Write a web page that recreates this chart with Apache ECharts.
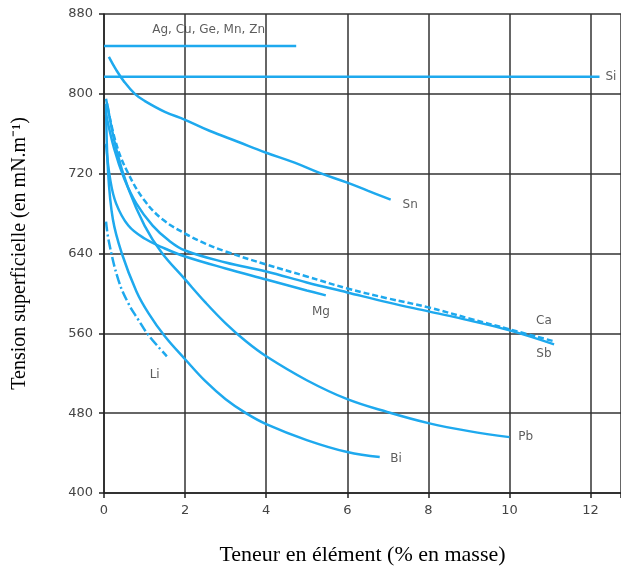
<!DOCTYPE html>
<html>
<head>
<meta charset="utf-8">
<script src="https://cdn.jsdelivr.net/npm/echarts@6/dist/echarts.min.js"></script>
<style>html,body{margin:0;padding:0;background:#fff}#c{width:621px;height:569px}</style>
</head>
<body>
<div id="c"></div>
<script>
// Data (x = % en masse, y = mN/m)
const agCuGeMnZn = [[0, 848], [4.74, 848]];
const si = [[0, 817], [12.22, 817]];
const sn = [[0.12, 837], [0.3, 824], [0.5, 812], [0.76, 800], [1, 793], [1.5, 782], [2, 774], [2.6, 763], [3.3, 752], [4, 741], [4.7, 731], [5.3, 721], [6, 711], [6.5, 703], [7.07, 694]];
const ca = [[0.05, 795], [0.3, 750], [0.6, 720], [1, 693], [1.45, 674], [2, 660], [2.5, 650], [3, 642], [4, 629], [5, 617], [6, 605], [7, 595], [8, 586], [9, 575], [10, 564], [11.1, 552]];
const sb = [[0.05, 780], [0.25, 745], [0.5, 715], [0.8, 690], [1.2, 668], [1.6, 653], [2, 643], [3, 631], [4, 622], [5, 611], [6, 601], [7, 591], [8, 582], [9, 573], [10, 563], [11.1, 549]];
const mg = [[0.05, 750], [0.15, 715], [0.3, 690], [0.6, 668], [1, 655], [1.5, 645], [2, 637], [3, 625], [4, 614], [5, 603], [5.47, 598]];
const pb = [[0.08, 790], [0.3, 745], [0.6, 705], [1, 668], [1.42, 641], [2, 614], [2.5, 591], [3, 570], [3.5, 552], [4, 537], [5, 513], [6, 494], [7, 481], [8, 470], [9, 462], [10, 456]];
const bi = [[0.05, 790], [0.1, 722], [0.22, 674], [0.44, 640], [0.8, 602], [1.1, 580], [1.5, 557], [2, 534], [2.5, 512], [3, 494], [3.5, 480], [4, 469], [5, 453], [6, 441], [6.8, 436]];
const li = [[0.05, 672], [0.12, 652], [0.35, 614], [0.6, 590], [0.84, 574], [1.1, 558], [1.55, 537]];
const curveLabels = [
  ['Ag, Cu, Ge, Mn, Zn', 2.58, 864],
  ['Si', 12.5, 817],
  ['Sn', 7.55, 689],
  ['Mg', 5.35, 582],
  ['Ca', 10.85, 572],
  ['Sb', 10.85, 539],
  ['Li', 1.25, 518],
  ['Bi', 7.2, 434],
  ['Pb', 10.4, 456]
];
const xTicks = [0, 2, 4, 6, 8, 10, 12];
const yTicks = [400, 480, 560, 640, 720, 800, 880];

const BLUE = '#1ea9ee';
function line(data, smooth, type) {
  return {
    type: 'line', data: data, smooth: smooth, showSymbol: false, symbol: 'none',
    lineStyle: { color: BLUE, width: 2.5, type: type || 'solid' }, z: 3, silent: true
  };
}
const chart = echarts.init(document.getElementById('c'), null, { renderer: 'canvas' });
chart.setOption({
  animation: false,
  backgroundColor: '#fff',
  grid: { left: 104, right: 0, top: 14, bottom: 76, containLabel: false, outerBoundsMode: 'none' },
  xAxis: {
    type: 'value', min: 0, max: 12.75, interval: 2,
    name: 'Teneur en élément (% en masse)', nameLocation: 'middle', nameGap: 51,
    nameTextStyle: { fontFamily: 'Liberation Serif', fontSize: 22, color: '#000' },
    axisLine: { show: true, lineStyle: { color: '#222', width: 1.5 } },
    axisTick: { show: true, length: 5, lineStyle: { color: '#222', width: 1.5 } },
    axisLabel: { margin: 11, fontFamily: 'DejaVu Sans', fontSize: 13, color: '#444',
      formatter: v => (xTicks.indexOf(v) >= 0 ? String(v) : '') },
    splitLine: { show: true, lineStyle: { color: '#333', width: 1.5 } }
  },
  yAxis: {
    type: 'value', min: 400, max: 880, interval: 80,
    name: 'Tension superficielle (en mN.m⁻¹)', nameLocation: 'middle', nameGap: 74,
    nameTextStyle: { fontFamily: 'Liberation Serif', fontSize: 20, color: '#000' },
    axisLine: { show: true, lineStyle: { color: '#222', width: 1.5 } },
    axisTick: { show: true, length: 5, lineStyle: { color: '#222', width: 1.5 } },
    axisLabel: { margin: 11, fontFamily: 'DejaVu Sans', fontSize: 13, color: '#444',
      formatter: v => (yTicks.indexOf(v) >= 0 ? String(v) : '') },
    splitLine: { show: true, lineStyle: { color: '#333', width: 1.5 } }
  },
  series: [
    line(agCuGeMnZn, false),
    line(si, false),
    line(sn, 0.4),
    line(ca, 0.4, [6, 3]),
    line(sb, 0.4),
    line(mg, 0.4),
    line(pb, 0.4),
    line(bi, 0.4),
    line(li, 0.4, [10, 3, 2, 3]),
    {
      type: 'scatter', symbolSize: 0, silent: true, z: 5,
      data: curveLabels.map(d => ({ value: [d[1], d[2]], name: d[0] })),
      label: { show: true, position: 'inside', formatter: p => p.name,
        fontFamily: 'DejaVu Sans', fontSize: 12, color: '#333' }
    }
  ]
});
</script>
</body>
</html>
